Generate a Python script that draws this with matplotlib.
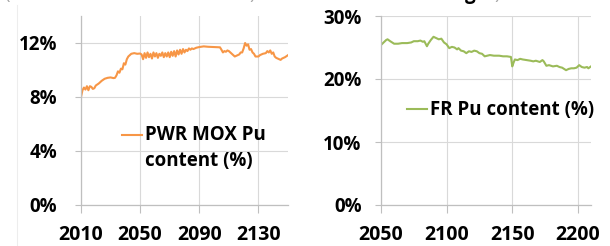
import matplotlib
matplotlib.use("Agg")
import matplotlib.pyplot as plt
from matplotlib.lines import Line2D
from matplotlib.ticker import FuncFormatter

# PWR MOX Pu content (%)
pwr_years = [2010, 2011, 2012, 2013, 2014, 2015, 2016, 2017, 2018, 2019, 2020,
             2022, 2024, 2026, 2028, 2030, 2032, 2033, 2034, 2035, 2036, 2037,
             2038, 2039, 2040, 2041, 2042, 2043, 2044, 2046, 2048, 2050, 2051,
             2052, 2053, 2054, 2055, 2056, 2057, 2058, 2059, 2060, 2061, 2062,
             2063, 2064, 2065, 2066, 2067, 2068, 2069, 2070, 2071, 2072, 2073,
             2074, 2075, 2076, 2077, 2078, 2079, 2080, 2081, 2082, 2083, 2084,
             2085, 2086, 2088, 2090, 2093, 2096, 2100, 2104, 2105, 2106, 2107,
             2108, 2109, 2110, 2111, 2112, 2113, 2114, 2115, 2117, 2118, 2119,
             2120, 2121, 2122, 2123, 2124, 2125, 2126, 2127, 2128, 2130, 2131,
             2133, 2135, 2136, 2137, 2138, 2139, 2140, 2141, 2142, 2144, 2145,
             2146, 2148, 2150]
pwr_pu = [8.0, 8.5, 8.7, 8.55, 8.8, 8.5, 8.8, 8.75, 8.6, 8.65, 8.85,
          9.0, 9.2, 9.35, 9.42, 9.45, 9.4, 9.42, 9.6, 9.9, 9.8, 10.1,
          10.05, 10.5, 10.4, 10.8, 11.0, 11.1, 11.2, 11.25, 11.2, 11.22, 11.15,
          10.8, 11.25, 10.9, 11.3, 10.95, 11.2, 10.85, 11.3, 11.0, 11.25, 10.9,
          11.2, 11.05, 11.3, 10.95, 11.25, 11.0, 11.3, 10.95, 11.35, 11.05, 11.4,
          11.0, 11.45, 11.15, 11.5, 11.2, 11.55, 11.3, 11.5, 11.4, 11.6, 11.5,
          11.6, 11.55, 11.65, 11.7, 11.75, 11.72, 11.7, 11.68, 11.5, 11.3, 11.4,
          11.35, 11.45, 11.4, 11.3, 11.2, 11.1, 11.0, 11.05, 11.15, 11.3, 11.3,
          11.6, 12.0, 11.8, 11.9, 11.5, 11.55, 11.3, 11.2, 11.0, 11.0, 11.1,
          11.2, 11.25, 11.4, 11.3, 11.45, 11.2, 11.3, 11.0, 10.9, 10.8, 10.75,
          10.85, 10.95, 11.1]

# FR Pu content (%)
fr_years = [2050, 2052, 2054, 2055, 2057, 2060, 2063, 2066, 2070, 2073, 2075,
            2078, 2080, 2082, 2083, 2085, 2086, 2088, 2090, 2092, 2094, 2096,
            2098, 2100, 2102, 2104, 2106, 2108, 2109, 2111, 2113, 2115, 2117,
            2119, 2121, 2123, 2125, 2127, 2129, 2131, 2133, 2136, 2140, 2143,
            2146, 2149, 2150, 2151, 2152, 2154, 2156, 2158, 2161, 2164, 2166,
            2168, 2171, 2173, 2174, 2176, 2178, 2181, 2184, 2186, 2188, 2191,
            2193, 2195, 2197, 2199, 2201, 2203, 2205, 2207, 2208, 2210]
fr_pu = [25.4, 25.8, 26.2, 26.3, 26.0, 25.6, 25.6, 25.7, 25.7, 25.8, 26.0,
         26.0, 26.1, 25.9, 26.0, 25.2, 25.6, 26.2, 26.7, 26.5, 26.3, 26.4,
         25.8, 25.5, 24.9, 25.1, 25.0, 24.7, 24.9, 24.5, 24.4, 24.1, 24.4,
         24.3, 24.5, 24.4, 24.1, 24.0, 23.6, 23.7, 23.8, 23.7, 23.7, 23.6,
         23.6, 23.5, 22.0, 22.6, 23.1, 23.0, 23.2, 23.1, 23.0, 22.9, 22.8,
         22.9, 22.7, 23.0, 22.8, 22.1, 22.2, 22.0, 22.1, 21.9, 21.8, 21.4,
         21.6, 21.7, 21.7, 21.8, 22.2, 21.9, 21.8, 21.9, 21.7, 22.0]

pwr_xticks = [2010, 2050, 2090, 2130]
pwr_yticks = [0, 4, 8, 12]
fr_xticks = [2050, 2100, 2150, 2200]
fr_yticks = [0, 10, 20, 30]

orange = "#F79646"
green = "#9BBB59"
grid_c = "#D9D9D9"
axis_c = "#BFBFBF"
fsize = 13.5

plt.rcParams["font.family"] = ["Open Sans", "DejaVu Sans"]
plt.rcParams["font.weight"] = "bold"

fig = plt.figure(figsize=(6.10, 2.46), dpi=100)
ax1 = fig.add_axes([81 / 610, 1 - 205 / 246, 207 / 610, 189 / 246])
ax2 = fig.add_axes([381 / 610, 1 - 205 / 246, 210 / 610, 189 / 246])

pct = FuncFormatter(lambda v, p: f"{v:.0f}%")


def style(ax, xticks, yticks, xlim, ylim, ypad):
    ax.set_xlim(*xlim)
    ax.set_ylim(*ylim)
    ax.set_xticks(xticks)
    ax.set_yticks(yticks)
    ax.yaxis.set_major_formatter(pct)
    ax.grid(True, color=grid_c, linewidth=0.8)
    ax.set_axisbelow(True)
    for s in ["top", "right"]:
        ax.spines[s].set_visible(False)
    for s in ["left", "bottom"]:
        ax.spines[s].set_color(axis_c)
        ax.spines[s].set_linewidth(0.9)
    ax.tick_params(axis="x", length=5.5, color=axis_c, width=0.8,
                   labelsize=14, pad=9)
    ax.tick_params(axis="y", length=4, color=axis_c, width=0.8,
                   labelsize=fsize, pad=ypad)


def add_legend(ax, anchor, spacing=1.2):
    leg = ax.legend(loc="upper left", bbox_to_anchor=anchor, frameon=False,
                    prop={"size": fsize, "weight": "bold"}, handlelength=1.05,
                    handletextpad=0.15, borderpad=0, borderaxespad=0)
    txt = leg.get_texts()[0]
    txt.set_linespacing(spacing)
    nlines = txt.get_text().count("\n")
    # keep the line sample level with the first text line
    line = leg.get_lines()[0]
    shift = 0.5 * nlines * spacing * 1.02 * fsize
    line.set_ydata([y + shift for y in line.get_ydata()])
    return leg


ax1.plot(pwr_years, pwr_pu, color=orange, linewidth=1.5,
         label="PWR MOX Pu\ncontent (%)")
style(ax1, pwr_xticks, pwr_yticks, (2010, 2150), (0, 14), 13)
add_legend(ax1, (0.2, 0.425), spacing=1.41)

ax2.plot(fr_years, fr_pu, color=green, linewidth=1.5,
         label="FR Pu content (%)")
style(ax2, fr_xticks, fr_yticks, (2050, 2210), (0, 30), 10)
add_legend(ax2, (0.125, 0.555))

# faint chart-area border on the far left
fig.add_artist(Line2D([17 / 610, 17 / 610], [0, 1 - 5 / 246],
                      transform=fig.transFigure, color="#EDEDED",
                      linewidth=0.8))

# bits of the cropped titles above the panels
fig.text(7 / 610, 1 + 1.5 / 246, "(", color="#A6A6A6", fontsize=fsize,
         fontweight="normal", ha="center", va="baseline")
fig.text(252 / 610, 1 + 1.5 / 246, ")", color="#A6A6A6", fontsize=fsize,
         fontweight="normal", ha="center", va="baseline")
fig.text(470 / 610, 1 + 1.0 / 246, "g", color="black", fontsize=fsize,
         ha="center", va="baseline")
fig.text(497 / 610, 1 + 1.5 / 246, ")", color="#A6A6A6", fontsize=fsize,
         fontweight="normal", ha="center", va="baseline")

fig.savefig("out.png", dpi=100)
